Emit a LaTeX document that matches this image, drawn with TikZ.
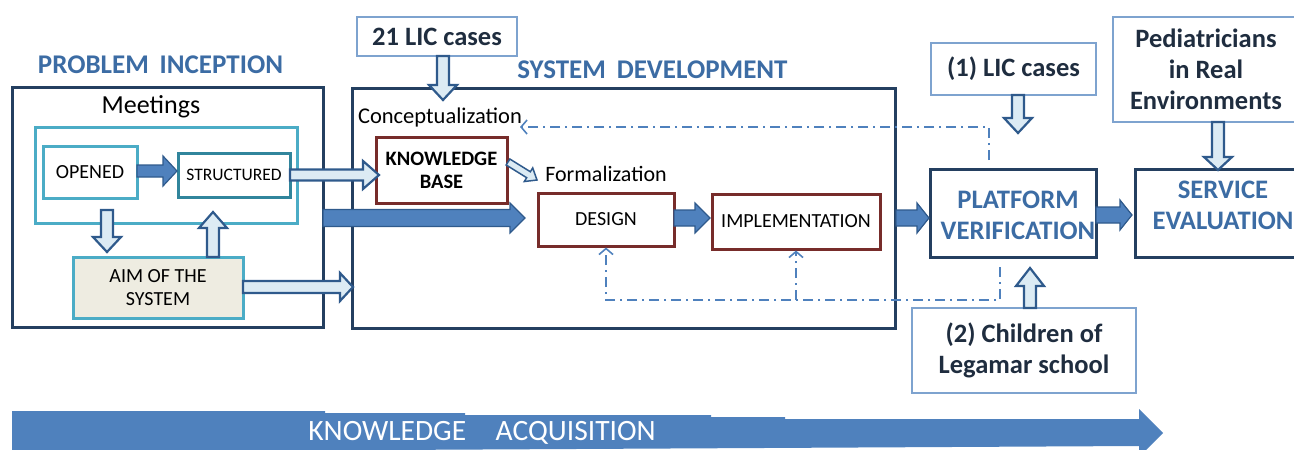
\documentclass[tikz,border=0pt]{standalone}
\usepackage{fontspec}
\setmainfont{Carlito}
\usetikzlibrary{calc,arrows.meta}
\definecolor{navy}{HTML}{243F60}
\definecolor{titleblue}{HTML}{3C6CA4}
\definecolor{teal}{HTML}{4BACC6}
\definecolor{darkteal}{HTML}{31859C}
\definecolor{darkred}{HTML}{772C2A}
\definecolor{beige}{HTML}{EEECE1}
\definecolor{arrblue}{HTML}{4F81BD}
\definecolor{arredge}{HTML}{2F5A8C}
\definecolor{lightfill}{HTML}{DCEBF4}
\definecolor{calloutedge}{HTML}{7EA3CF}
\definecolor{callouttext}{HTML}{1F2D3F}
\newcommand\blockarrow[6]{%
  \coordinate (bah) at ($(#3)!#6!(#2)$);
  \draw[#1] ($(#2)!#4!90:(#3)$) -- ($(bah)!#4!90:(#3)$) -- ($(bah)!#5!90:(#3)$) -- (#3)
    -- ($(bah)!#5!-90:(#3)$) -- ($(bah)!#4!-90:(#3)$) -- ($(#2)!#4!-90:(#3)$) -- cycle;}
\begin{document}
\begin{tikzpicture}[x=1pt,y=-1pt,
  sz/.style 2 args={minimum width=#1pt, minimum height=#2pt, inner sep=0pt},
  navybox/.style={draw=navy, line width=3pt},
  tealbox/.style={draw=teal, line width=3pt},
  redbox/.style={draw=darkred, line width=3pt},
  callout/.style={draw=calloutedge, line width=1.3pt, text=callouttext, align=center,
    font=\fontsize{26.5}{31}\selectfont\bfseries},
  smalltxt/.style={font=\fontsize{20}{23}\selectfont, align=center},
  titletxt/.style={text=titleblue, font=\fontsize{27}{30}\selectfont\bfseries},
  bluetxt/.style={text=titleblue, align=center, font=\fontsize{26.7}{31}\selectfont\bfseries},
  darkarr/.style={fill=arrblue, draw=arredge, line width=1.2pt, line join=miter},
  lightarr/.style={fill=lightfill, draw=arredge, line width=2.2pt, line join=miter},
  dashdot/.style={draw=arrblue, line width=1.6pt, dash pattern=on 10pt off 5pt on 2pt off 5pt},
  barb/.style={-{Straight Barb[length=6pt,width=14pt,line width=1.6pt]}}
]
\useasboundingbox (0,0) rectangle (1294,450);

% knowledge acquisition arrow
\fill[arrblue] (12,411) -- (325,411) -- (325,413) -- (465,413) -- (465,415) -- (711,415) -- (711,417)
  -- (785,417) -- (785,419) -- (1139,419) -- (1139,409) -- (1163,433) -- (1139,457) -- (1139,446)
  -- (12,452) -- cycle;
\node[text=white, font=\fontsize{29.5}{31}\selectfont] (ka) at (482,433) {KNOWLEDGE\hspace{1.0em}ACQUISITION};

% titles
\node[titletxt] (pit) at (160.5,65) {PROBLEM\hspace{0.4em}INCEPTION};
\node[titletxt] (sdt) at (652.5,70) {SYSTEM\hspace{0.4em}DEVELOPMENT};

% problem inception
\node[navybox, sz={311}{240}] (pi) at (167.5,207) {};
\node[font=\fontsize{26}{28}\selectfont] (meett) at (151,107) {Meetings};
\node[tealbox, sz={262}{96}] (meet) at (166,175) {};
\node[tealbox, sz={94}{52}, smalltxt] (opened) at (90,172) {OPENED};
\node[draw=darkteal, line width=3pt, sz={112}{44}, smalltxt, font=\fontsize{17.5}{21}\selectfont] (struct) at (234,175) {STRUCTURED};
\node[tealbox, fill=beige, sz={170}{61}, smalltxt] (aim) at (158,287.5) {AIM OF THE\\SYSTEM};

% system development
\node[navybox, sz={543}{240}] (sd) at (623.5,208) {};
\node[callout, sz={160}{39}] (lic21) at (437,36.5) {21 LIC cases};
\node[font=\fontsize{22.5}{26}\selectfont] (conc) at (440,117) {Conceptualization};
\node[redbox, sz={131}{66}, smalltxt, font=\fontsize{20.5}{23}\selectfont\bfseries] (kb) at (441.5,170) {KNOWLEDGE\\BASE};
\node[font=\fontsize{22}{26}\selectfont] (form) at (606,174) {Formalization};
\node[redbox, sz={136}{53}, smalltxt] (design) at (606,219.5) {DESIGN};
\node[redbox, sz={168}{55}, smalltxt] (impl) at (796,221.5) {IMPLEMENTATION};

% verification and evaluation
\node[navybox, sz={166}{88}] (pv) at (1013,213) {};
\node[bluetxt] (pvt) at (1018,215) {PLATFORM\\VERIFICATION};
\node[callout, sz={165}{52}] (lic1) at (1013.5,69) {(1) LIC cases};
\node[callout, sz={224}{85}] (child) at (1024,350.5) {(2) Children of\\Legamar school};
\node[navybox, sz={175}{88}] (se) at (1222.5,213) {};
\node[bluetxt] (set) at (1223,205) {SERVICE\\EVALUATION};
\node[callout, sz={197}{105}] (ped) at (1211.5,69.5) {};
\node[callout, draw=none] (pedt) at (1206,69) {Pediatricians\\in Real\\Environments};

% feedback dash-dot lines
\coordinate (fb1) at (989,160);
\coordinate (fb1c) at (989,127);
\coordinate (fb1e) at (520,127);
\draw[dashdot, barb] (fb1) -- (fb1c) -- (fb1e);
\coordinate (fb2) at (1000,267);
\coordinate (fb2c) at (1000,300);
\coordinate (fb2d) at (606,300);
\coordinate (fb2m) at (796,300);
\draw[dashdot, barb] (fb2) -- (fb2c) -- (fb2d) -- (design.south);
\draw[dashdot, barb] (fb2m) -- (impl.south);

% block arrows
\coordinate (a1s) at (137,171); \coordinate (a1e) at (177,171);
\blockarrow{darkarr}{a1s}{a1e}{6pt}{15pt}{14pt}
\coordinate (a2s) at (107,210); \coordinate (a2e) at (107,252);
\blockarrow{lightarr}{a2s}{a2e}{6pt}{14pt}{15pt}
\coordinate (a3s) at (213,257); \coordinate (a3e) at (213,212);
\blockarrow{lightarr}{a3s}{a3e}{6pt}{14pt}{16pt}
\coordinate (a4s) at (290,175); \coordinate (a4e) at (379,175);
\blockarrow{lightarr}{a4s}{a4e}{5.5pt}{14pt}{16pt}
\coordinate (a5s) at (243,287); \coordinate (a5e) at (353,287);
\blockarrow{lightarr}{a5s}{a5e}{6pt}{14pt}{13pt}
\coordinate (a6s) at (323,218); \coordinate (a6e) at (525,218);
\blockarrow{darkarr}{a6s}{a6e}{8.5pt}{15pt}{15pt}
\coordinate (a7s) at (443,56); \coordinate (a7e) at (443,100);
\blockarrow{lightarr}{a7s}{a7e}{6pt}{14pt}{15pt}
\coordinate (a8s) at (508,162); \coordinate (a8e) at (537,180);
\blockarrow{lightarr, line width=1.5pt}{a8s}{a8e}{3.5pt}{8pt}{10pt}
\coordinate (a9s) at (674,218); \coordinate (a9e) at (710,218);
\blockarrow{darkarr}{a9s}{a9e}{8pt}{15pt}{15pt}
\coordinate (a10s) at (896,218); \coordinate (a10e) at (929,218);
\blockarrow{darkarr}{a10s}{a10e}{8pt}{15pt}{12pt}
\coordinate (a11s) at (1018,95); \coordinate (a11e) at (1018,133);
\blockarrow{lightarr}{a11s}{a11e}{6pt}{14pt}{15pt}
\coordinate (a12s) at (1030,308); \coordinate (a12e) at (1030,268);
\blockarrow{lightarr}{a12s}{a12e}{6pt}{14pt}{18pt}
\coordinate (a13s) at (1096,215); \coordinate (a13e) at (1132,215);
\blockarrow{darkarr}{a13s}{a13e}{8pt}{15pt}{12pt}
\coordinate (a14s) at (1218,122); \coordinate (a14e) at (1218,170);
\blockarrow{lightarr}{a14s}{a14e}{6pt}{14pt}{13pt}
\end{tikzpicture}
\end{document}
